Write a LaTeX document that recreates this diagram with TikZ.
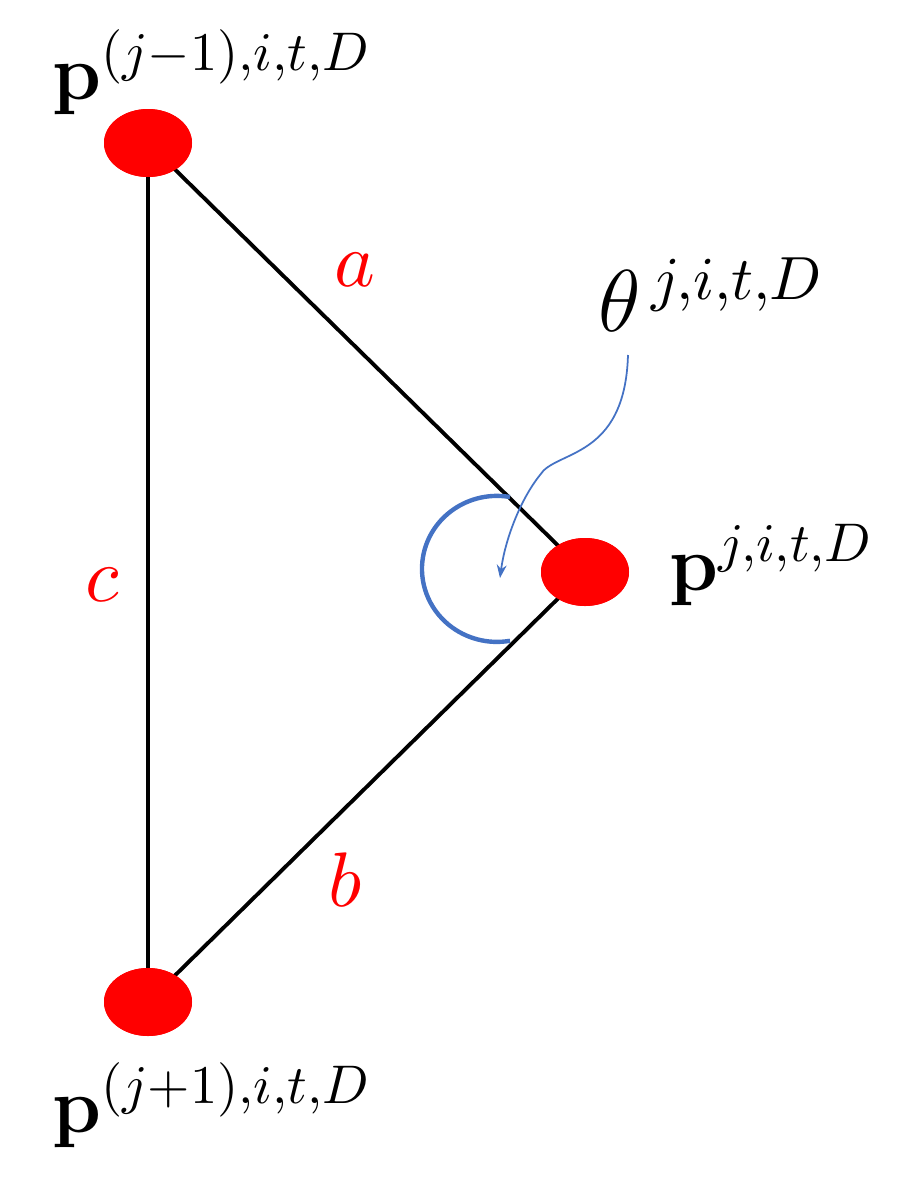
\documentclass[tikz,border=0pt]{standalone}
\usepackage{amsmath,bm}
\usetikzlibrary{arrows.meta,shapes.geometric}
\definecolor{dotred}{RGB}{255,0,0}
\definecolor{anglblue}{RGB}{68,114,196}
\tikzset{
  vertex/.style={ellipse, fill=dotred, minimum width=88*0.02cm, minimum height=68*0.02cm, inner sep=0pt},
  side/.style={line width=2.2pt, black},
  sidelabel/.style={text=dotred, scale=4.4},
  ptlabel/.style={font=\Large, scale=3.1}
}
\begin{document}
\begin{tikzpicture}[x=0.02cm, y=-0.02cm, >=Stealth]
\useasboundingbox (0,0) rectangle (913,1191);

% the three vertices
\node [vertex] (prev) at (148,143) {};
\node [vertex] (cur) at (585,572) {};
\node [vertex] (next) at (148,1002) {};

\draw [side] (prev.center) -- (cur.center);
\draw [side] (cur.center) -- (next.center);
\draw [side] (prev.center) -- (next.center);
\node [vertex] at (prev) {};
\node [vertex] at (cur) {};
\node [vertex] at (next) {};

% side labels
\node [sidelabel] (la) at (355,270) {$a$};
\node [sidelabel] (lb) at (345,880) {$b$};
\node [sidelabel] (lc) at (102,585) {$c$};

% point labels
\node [ptlabel] (pprev) at (212,72) {$\bm{\mathrm{p}}^{(j-1),i,t,D}$};
\node [ptlabel] (pcur) at (772,565) {$\bm{\mathrm{p}}^{j,i,t,D}$};
\node [ptlabel] (pnext) at (212,1105) {$\bm{\mathrm{p}}^{(j+1),i,t,D}$};
\node [ptlabel, scale=1.12] (theta) at (712,295) {$\theta^{\,j,i,t,D}$};

% angle marker
\draw [anglblue, line width=2.5pt] (510,497) arc [start angle=-80, end angle=-280, x radius=75, y radius=73];
\coordinate (tip) at (500,578);
\draw [anglblue, line width=1pt, ->] (628,355) .. controls (625,460) and (555,450) .. (540,475)
  .. controls (520,500) and (505,540) .. (tip);
\end{tikzpicture}
\end{document}
